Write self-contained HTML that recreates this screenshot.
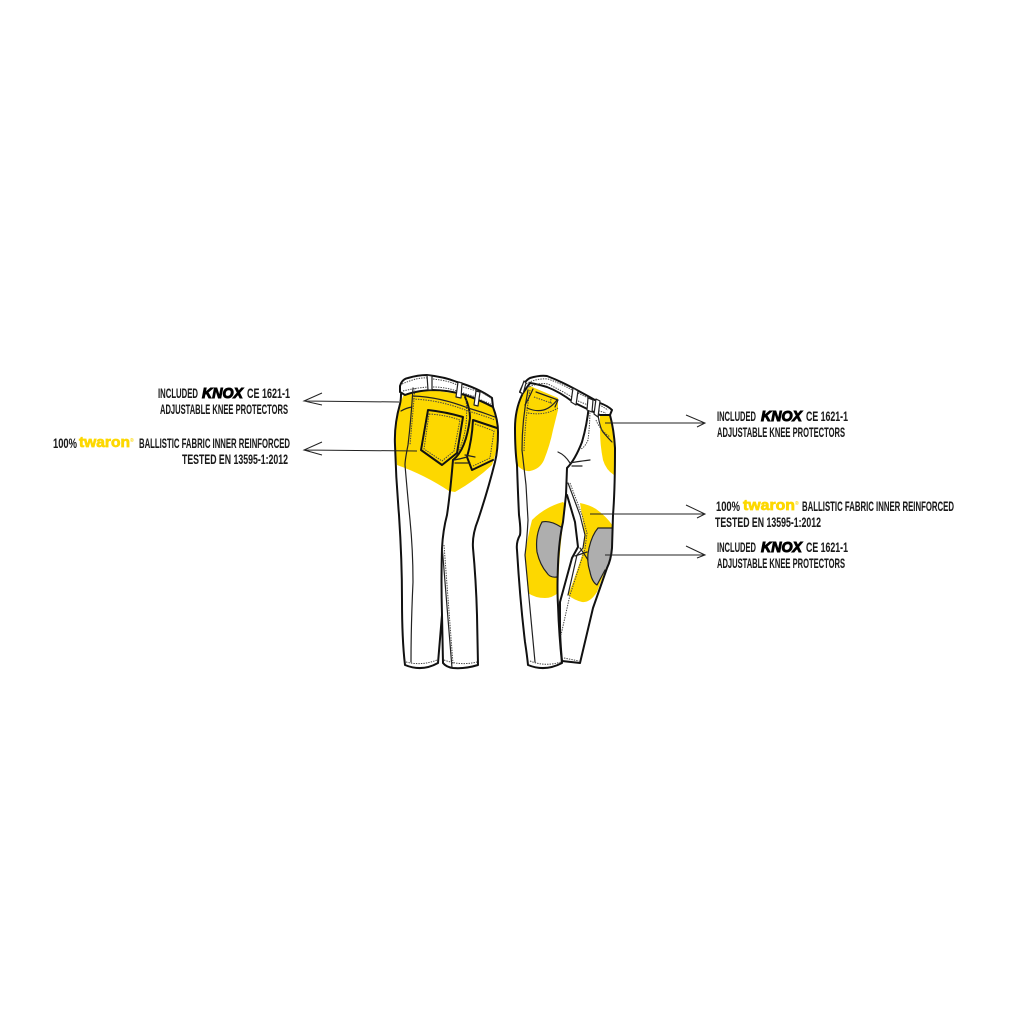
<!DOCTYPE html>
<html><head><meta charset="utf-8"><style>
html,body{margin:0;padding:0;background:#fff}
svg{display:block}
text{font-family:"Liberation Sans",sans-serif;font-weight:700;font-size:13.5px;fill:#1a1a1a;stroke:#1a1a1a;stroke-width:.05}
.k{font-style:italic;font-size:15px;stroke:#000;stroke-width:1;fill:#000}
.t{font-size:14.5px;fill:#fdd800;stroke:#fdd800;stroke-width:.7}
.r{font-size:5px;fill:#fdd800;stroke:none}
.l{fill:none;stroke:#111;stroke-width:2;stroke-linecap:round;stroke-linejoin:round}
.m{fill:none;stroke:#222;stroke-width:1.2;stroke-linecap:round;stroke-linejoin:round}
.d{fill:none;stroke:#444;stroke-width:1;stroke-dasharray:1.4 1.1}
.a{fill:none;stroke:#222;stroke-width:1}
</style></head><body>
<svg width="1024" height="1024" viewBox="0 0 1024 1024" xmlns="http://www.w3.org/2000/svg">
<rect width="1024" height="1024" fill="#fff"/>

<!-- BACK VIEW -->
<path fill="#fdd800" d="M404 394L397 412Q394 440 397 465Q425 475 449 491L455 492Q476 480 492 465Q499 445 498 430Q497 415 493 407L465 395L432 390Z"/>
<path class="l" d="M400 386Q402 379 408 378Q418 375 427 375Q445 377 457 382Q478 388 492 398L493 407Q480 400 465 395Q448 390 432 390Q415 391 405 395L400 392Z"/>
<path class="l" d="M401 394Q401 400 400 404Q394 425 395 445Q396 480 399 515Q402 560 402 600Q402 640 405 665Q422 672 438 663Q440 640 442 615Q441 580 442 548Q443 530 447 515Q450 495 453 460"/>
<path class="l" d="M493 407Q498 420 498 432Q498 450 495 462Q488 490 478 520Q472 535 473 548Q476 580 477 615L478 665Q465 669 453 668Q446 667 443 663L442 615"/>
<path class="l" d="M453 460Q466 450 470 418Q470 408 465 397"/>
<path class="m" d="M442 545L452 668"/>
<path class="d" d="M444 545L453 664"/>
<path class="d" d="M406 662Q422 666 437 660"/>
<path class="d" d="M444 660Q460 666 477 662"/>
<path class="m" d="M413 388Q411 420 408 445Q405 460 405 465Q408 500 410 520Q413 550 413 582Q411 625 411 662"/>
<path class="d" d="M415 388L410 445"/>
<path class="m" d="M401 411Q406 408 412 407"/>
<path class="m" d="M413 396Q440 397 468 408Q482 412 495 417"/>
<path class="d" d="M413 399Q440 400 468 411Q482 415 495 420"/>
<path class="l" d="M428 410Q446 412 463 417L457 453L442 465L421 450Z"/>
<path class="d" d="M429 414Q446 415 460 420L454 451L442 461L424 449Z"/>
<path class="l" d="M473 420L497 428M493 460L472 470L467 457Q472 440 473 420"/>
<path class="d" d="M475 424L494 431L490 458L473 466"/>
<path class="m" d="M454 460Q460 459 467 457M455 463L470 463"/>
<path class="m" d="M465 455L475 457"/>
<path class="d" d="M466 400Q469 430 458 452"/>
<path class="d" d="M402 384Q418 377 427 378M433 379Q450 381 457 385M463 387L477 391M481 392L491 398"/>
<path class="d" d="M403 391Q415 388 428 387M433 387Q445 387 457 391M463 393L476 397M481 400L491 404"/>
<path fill="#fff" class="m" style="fill:#fff" d="M427 375L432 376L432 390L428 390Z"/>
<path class="m" style="fill:#fff" d="M458 382L462 383L461 398L456 397Z"/>
<path class="m" style="fill:#fff" d="M476 391L480 392L478 406L474 405Z"/>

<!-- FRONT VIEW -->
<path fill="#fdd800" d="M523 394Q516 410 515 428Q515 450 517 465Q523 472 530 471Q540 469 544 460Q550 445 553 430L558 410L558 398L530 386Z"/>
<path fill="#fdd800" d="M600 414L610 414Q615 430 615 448L614 475Q606 470 603 460Q600 445 600 430Z"/>
<path fill="#fdd800" d="M532 520Q545 507 563 502L566 505Q559 545 558 593Q552 598 545 598Q535 598 528 593L525 555Q528 535 532 520Z"/>
<path fill="#fdd800" d="M580 503Q590 505 596 509Q606 516 613 526L612 548Q608 565 606 568L597 592Q590 603 582 602Q574 600 568 595Q576 575 583 552L585 535Z"/>
<path fill="#aeaeae" d="M542 522Q550 520 561 527L557 577Q550 578 547 573Q540 565 537 552Q535 535 542 522Z"/>
<path fill="#aeaeae" d="M598 528L613 528L612 555Q610 562 605 570L597 585Q592 582 590 572Q586 560 589 548Q592 535 598 528Z"/>
<path class="m" d="M561 527Q550 520 542 522Q535 535 537 552Q540 565 547 573Q550 578 557 577"/>
<path class="m" d="M612 528L598 528Q592 535 589 548Q586 560 590 572Q592 582 597 585L605 570"/>
<path class="l" d="M520 392Q524 381 530 378Q540 375 547 376Q560 381 573 388Q590 397 600 403Q608 406 612 410L610 415L600 415Q585 408 573 402Q560 392 547 387Q537 384 530 383L523 393Z"/>
<path class="l" d="M522 395Q515 410 515 428Q515 450 517 465Q518 495 519 515Q521 530 520 535Q516 542 517 550Q520 600 525 642Q527 655 528 665Q545 672 562 663Q559 635 558 605Q557 590 558 565Q559 540 563 522L566 495L567 468Q575 460 582 442Q587 425 589 405"/>
<path class="l" d="M610 415Q614 430 615 448Q615 490 613 515L612 548Q611 560 607 568L593 608L580 663L562 661Q560 640 560 625L560 602Q566 580 572 558L578 547L575 522L567 495"/>
<path class="m" d="M568 483L580 515L585 535L583 548L577 555L568 595"/>
<path class="d" d="M570 483L582 515L587 533L585 549L570 595L561 635"/>
<path class="m" d="M522 450L526 485L528 520Q527 540 525 555L535 662"/>
<path class="d" d="M530 390Q525 420 524 452"/>
<path class="m" d="M528 390Q522 420 522 450"/>
<path class="d" d="M530 661Q545 667 561 662"/>
<path class="d" d="M564 658L579 661"/>
<path class="m" d="M525 405Q528 400 533 389M527 408Q545 416 557 400"/>
<path class="d" d="M528 413Q545 416 558 408"/>
<path class="m" d="M536 392L558 400L555 407"/>
<path class="d" d="M534 397L554 404M551 399L550 404"/>
<path class="m" d="M598 415Q600 428 603 432Q608 438 612 442"/>
<path class="d" d="M596 420Q600 430 610 437"/>
<path class="d" d="M590 405Q590 425 588 440Q585 447 581 449"/>
<path class="m" d="M558 452Q565 455 570 463Q574 462 590 460M572 466L582 466"/>
<path class="d" d="M524 385Q535 378 548 379Q562 384 572 390M578 393L588 398M595 402L608 410"/>
<path class="d" d="M527 388Q538 382 548 384Q562 391 572 397M578 401L588 405M596 410L606 413"/>
<path class="m" style="fill:#fff" d="M520 392L524 381L526 383L523 394Z"/>
<path class="m" style="fill:#fff" d="M573 388L578 391L576 405L571 402Z"/>
<path class="m" style="fill:#fff" d="M588 398L593 400L592 412L587 410Z"/>
<path class="m" style="fill:#fff" d="M596 399L600 401L598 417L594 414Z"/>
<path class="m" d="M580 548Q585 555 588 560M575 556L587 552"/>

<!-- ARROWS -->
<path class="a" d="M399 402L304 401M322 393L304 401L322 405"/>
<path class="a" d="M417 451L304 450M322 442L304 450L322 455"/>
<path class="a" d="M605 423L705 423M686 415L705 423L697 427"/>
<path class="a" d="M590 514L705 514M686 505L705 514L697 518"/>
<path class="a" d="M605 555L705 555M686 546L705 555L697 558"/>

<!-- LEFT LABELS -->
<text x="158" y="398" textLength="40" lengthAdjust="spacingAndGlyphs">INCLUDED</text>
<text class="k" x="202" y="398" textLength="41" lengthAdjust="spacingAndGlyphs">KNOX</text>
<text x="247" y="398" textLength="43" lengthAdjust="spacingAndGlyphs">CE 1621-1</text>
<text x="160" y="414" textLength="128" lengthAdjust="spacingAndGlyphs">ADJUSTABLE KNEE PROTECTORS</text>
<text x="53" y="448" textLength="24" lengthAdjust="spacingAndGlyphs">100%</text>
<text class="t" x="79" y="447" textLength="51" lengthAdjust="spacingAndGlyphs">twaron</text>
<text class="r" x="130" y="442">®</text>
<text x="139" y="448" textLength="151" lengthAdjust="spacingAndGlyphs">BALLISTIC FABRIC INNER REINFORCED</text>
<text x="182" y="464" textLength="106" lengthAdjust="spacingAndGlyphs">TESTED EN 13595-1:2012</text>

<!-- RIGHT LABELS -->
<text x="717" y="421" textLength="39" lengthAdjust="spacingAndGlyphs">INCLUDED</text>
<text class="k" x="761" y="421" textLength="41" lengthAdjust="spacingAndGlyphs">KNOX</text>
<text x="806" y="421" textLength="42" lengthAdjust="spacingAndGlyphs">CE 1621-1</text>
<text x="717" y="437" textLength="128" lengthAdjust="spacingAndGlyphs">ADJUSTABLE KNEE PROTECTORS</text>
<text x="716" y="511" textLength="24" lengthAdjust="spacingAndGlyphs">100%</text>
<text class="t" x="743" y="510" textLength="52" lengthAdjust="spacingAndGlyphs">twaron</text>
<text class="r" x="795" y="505">®</text>
<text x="802" y="511" textLength="152" lengthAdjust="spacingAndGlyphs">BALLISTIC FABRIC INNER REINFORCED</text>
<text x="715" y="527" textLength="106" lengthAdjust="spacingAndGlyphs">TESTED EN 13595-1:2012</text>
<text x="717" y="552" textLength="39" lengthAdjust="spacingAndGlyphs">INCLUDED</text>
<text class="k" x="761" y="552" textLength="41" lengthAdjust="spacingAndGlyphs">KNOX</text>
<text x="806" y="552" textLength="42" lengthAdjust="spacingAndGlyphs">CE 1621-1</text>
<text x="717" y="568" textLength="128" lengthAdjust="spacingAndGlyphs">ADJUSTABLE KNEE PROTECTORS</text>
</svg>
</body></html>
